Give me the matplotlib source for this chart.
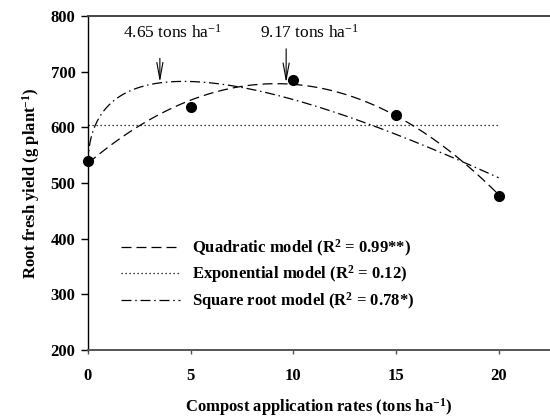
import numpy as np
import matplotlib
matplotlib.use("Agg")
import matplotlib.pyplot as plt

# ---- data ----
rates = [0, 5, 10, 15, 20]                 # compost application rate (tons/ha)
yield_obs = [540, 637, 685, 622, 477]      # root fresh yield (g/plant)
exp_plateau = 605                          # exponential model level
xticks = [0, 5, 10, 15, 20]
yticks = [200, 300, 400, 500, 600, 700, 800]
legend_labels = [r"Quadratic model (R$^{\mathbf{2}}$ = 0.99**)",
                 r"Exponential model (R$^{\mathbf{2}}$ = 0.12)",
                 r"Square root model (R$^{\mathbf{2}}$ = 0.78*)"]
opt_labels = [r"4.65 tons ha$^{-1}$", r"9.17 tons ha$^{-1}$"]
opt_arrow_tips = [(3.5, 681), (9.65, 680)]
opt_text_pos = [(4.1, 769), (10.8, 769)]
opt_arrow_tails = [(3.5, 724), (9.65, 741)]

plt.rcParams['font.family'] = ['Liberation Serif', 'DejaVu Serif']
plt.rcParams['mathtext.fontset'] = 'custom'
plt.rcParams['mathtext.rm'] = 'Liberation Serif'
plt.rcParams['mathtext.it'] = 'Liberation Serif:italic'
plt.rcParams['mathtext.bf'] = 'Liberation Serif:bold'

x = np.array(rates, float)
y = np.array(yield_obs, float)

# fitted models (least squares on the observed points)
qc = np.polyfit(x, y, 2)
A = np.column_stack([np.ones_like(x), np.sqrt(x), x])
sc, *_ = np.linalg.lstsq(A, y, rcond=None)

xs = np.linspace(0, 20, 400)
yq = np.polyval(qc, xs)
ysr = sc[0] + sc[1] * np.sqrt(xs) + sc[2] * xs
ye = np.full_like(xs, exp_plateau)

fig = plt.figure(figsize=(5.5, 4.2), dpi=100)
ax = fig.add_axes([0.16, 0.1667, 0.84, 0.7953])

ax.plot(xs, yq, color='black', lw=0.9, dashes=(8, 4), label=legend_labels[0])
ax.plot(xs, ye, color='black', lw=0.9, dashes=(1, 2.2), label=legend_labels[1])
ax.plot(xs, ysr, color='black', lw=0.9, dashes=(8, 3, 1.2, 3), label=legend_labels[2])
ax.plot(x, y, 'o', color='black', ms=7, zorder=5, clip_on=False)

for lab, tp, tip, tail in zip(opt_labels, opt_text_pos, opt_arrow_tips, opt_arrow_tails):
    ax.text(tp[0], tp[1], lab, ha='center', va='center', fontsize=12.5)
    ax.annotate('', xy=tip, xytext=tail,
                arrowprops=dict(arrowstyle='->,head_length=1.2,head_width=0.22',
                                color='black', lw=0.8, shrinkA=0, shrinkB=0))

ax.set_xlim(0, 22.5)
ax.set_ylim(200, 800)
ax.set_xticks(xticks)
ax.set_yticks(yticks)
ax.tick_params(axis='x', direction='out', length=3, width=1, pad=10, labelsize=12, color='#555555')
ax.tick_params(axis='y', direction='out', length=5, width=1, pad=4, labelsize=12)
for lab in ax.get_xticklabels() + ax.get_yticklabels():
    lab.set_fontweight('bold')

ax.spines['right'].set_visible(False)
ax.spines['top'].set_color('#444444')
ax.spines['top'].set_linewidth(1.4)
ax.spines['bottom'].set_color('#555555')
ax.spines['bottom'].set_linewidth(1.4)
ax.spines['left'].set_linewidth(1.0)

ax.set_xlabel(r"Compost application rates (tons ha$^{\mathbf{-1}}$)", fontsize=12, fontweight='bold', labelpad=9)
ax.set_ylabel(r"Root fresh yield (g plant$^{\mathbf{-1}}$)", fontsize=12, fontweight='bold', labelpad=6)

handles, labels = ax.get_legend_handles_labels()
leg = ax.legend(handles[:3], labels[:3], loc='upper left', bbox_to_anchor=(0.058, 0.357),
                frameon=False, prop={'weight': 'bold', 'size': 12},
                handlelength=3.5, handletextpad=0.75, labelspacing=0.29, borderaxespad=0)

fig.savefig('out.png', dpi=100)
